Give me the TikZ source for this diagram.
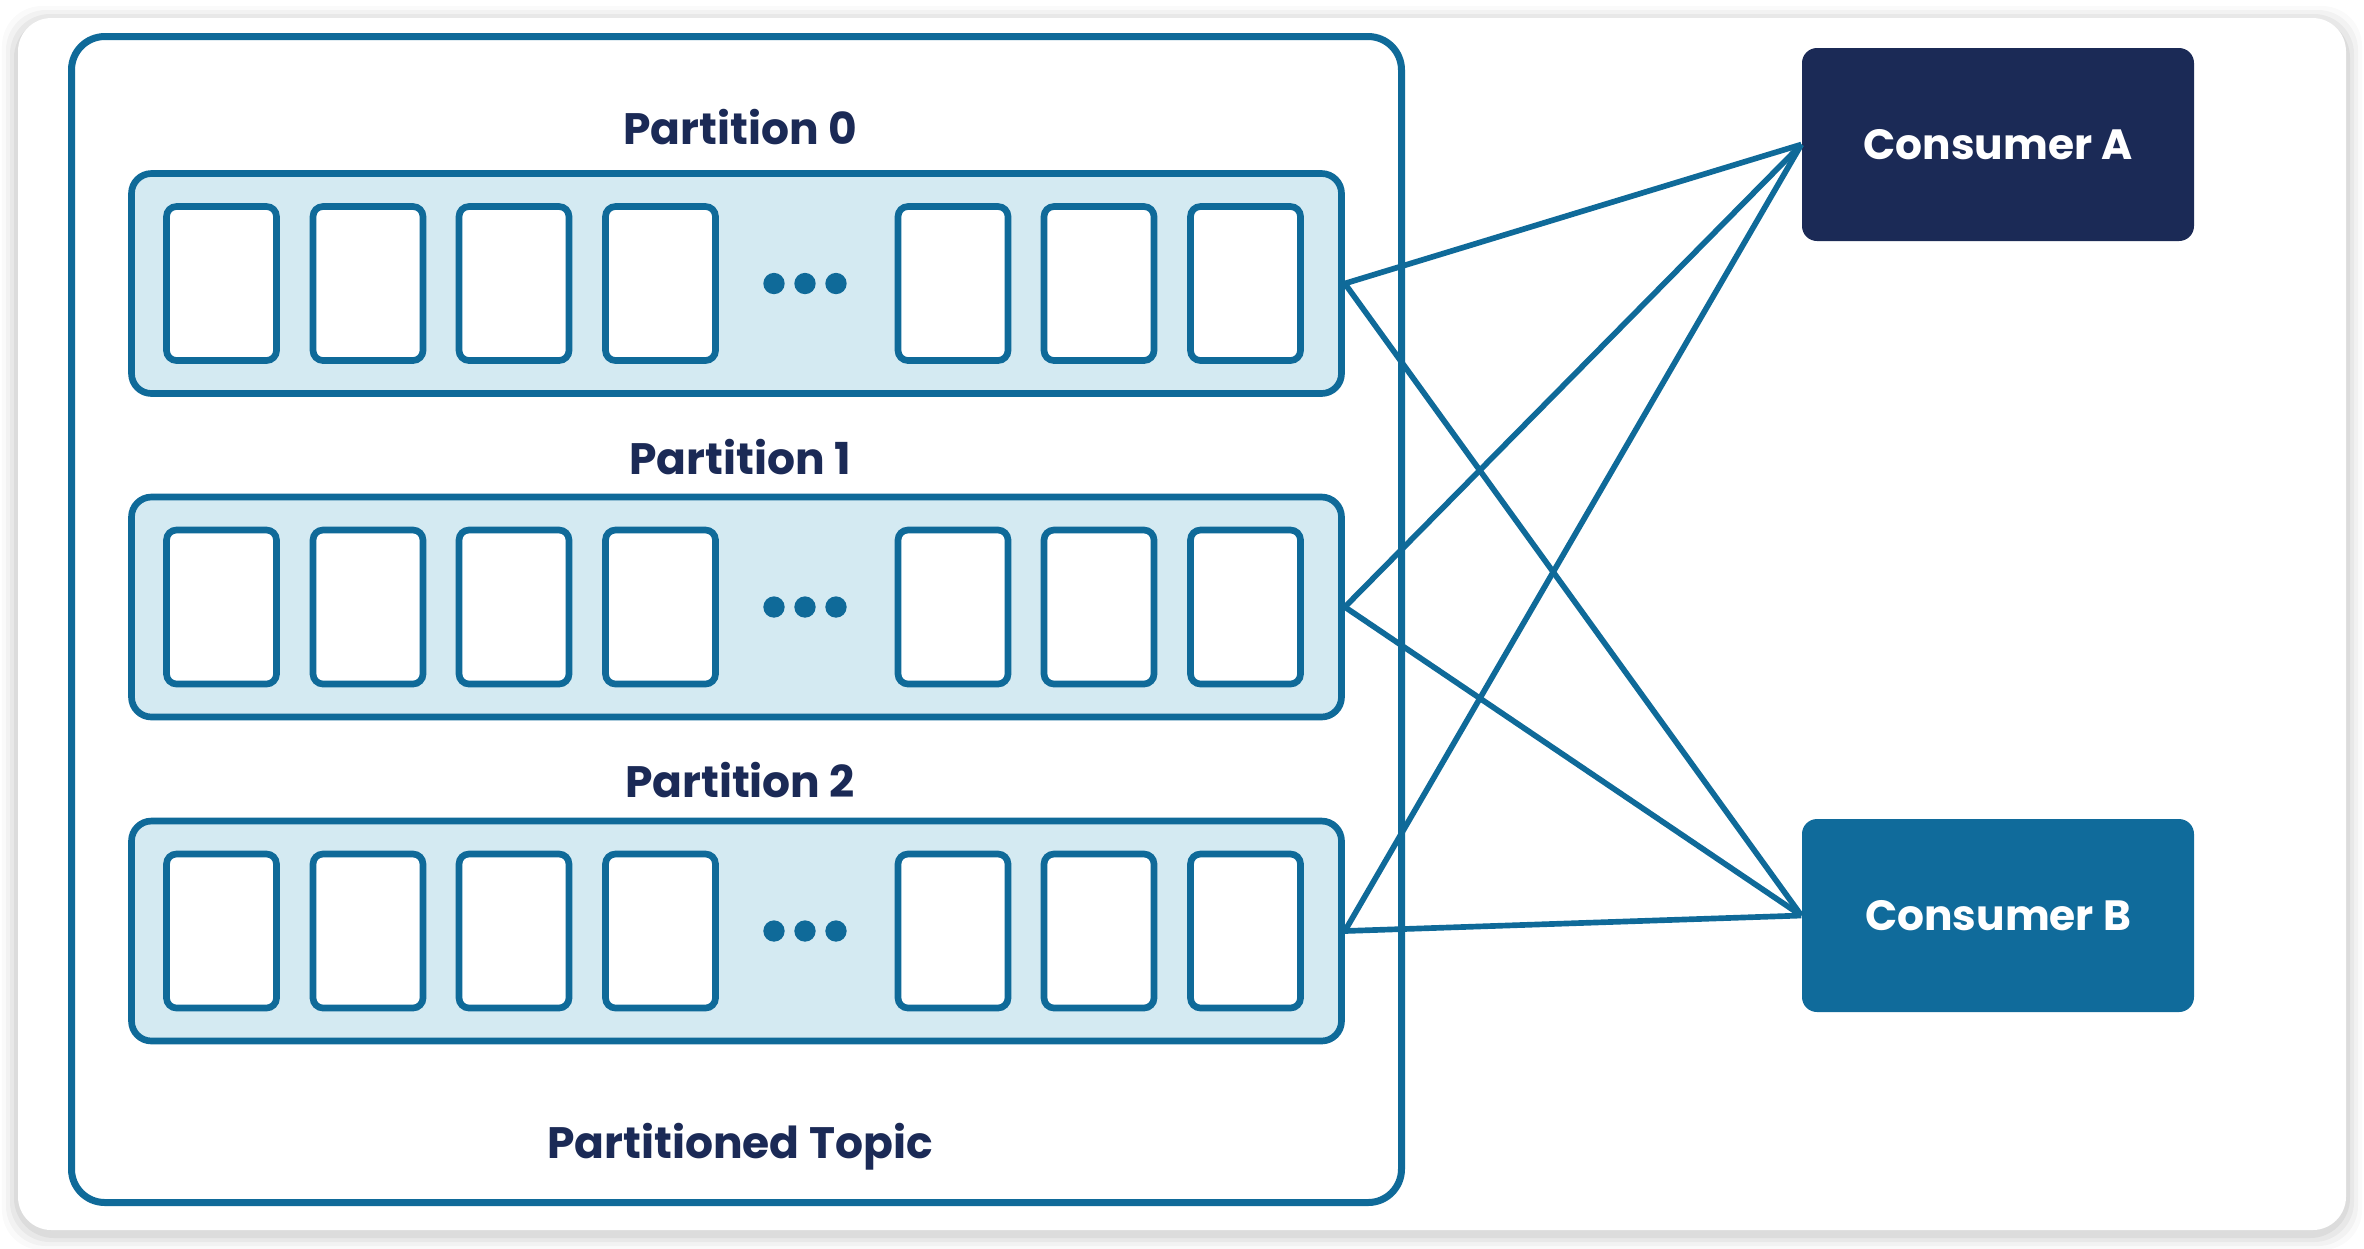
\documentclass[tikz,border=0pt]{standalone}
\usepackage{fontspec}
\setmainfont{Poppins}
\usetikzlibrary{positioning}
\definecolor{navy}{RGB}{27, 42, 86}
\definecolor{topicblue}{RGB}{15, 106, 153}
\definecolor{pale}{RGB}{212, 234, 242}
\definecolor{consblue}{RGB}{16, 107, 155}

\tikzset{
  frame/.style={draw=topicblue, line width=2.1pt, rounded corners=10pt,
    minimum width=399pt, minimum height=349.8pt, inner sep=0pt},
  partbox/.style={draw=topicblue, fill=pale, line width=2pt, rounded corners=6pt,
    minimum width=363pt, minimum height=66pt, inner sep=0pt},
  cell/.style={draw=topicblue, fill=white, line width=2pt, rounded corners=3pt,
    minimum width=33pt, minimum height=46.2pt, inner sep=0pt},
  lbl/.style={text=navy, font=\fontsize{13.2}{15}\selectfont\bfseries},
  consumer/.style={rounded corners=4.5pt, minimum width=117.6pt,
    minimum height=57.9pt, text=white, font=\fontsize{12.7}{15}\selectfont\bfseries},
  link/.style={draw=topicblue, line width=1.7pt},
}

\begin{document}
\begin{tikzpicture}[x=0.3pt, y=-0.3pt]
  \useasboundingbox (0, 0) rectangle (2364, 1248);
  \fill[white] (0, 0) rectangle (2364, 1248);

  % card and its shadow
  \foreach \s/\o in {16/0.02, 12/0.03, 8/0.04, 4/0.05} {
    \fill[black, opacity=\o, rounded corners=12pt]
      (18-\s, 18-\s+4) rectangle (2346+\s, 1230+\s+4);
  }
  \fill[white, rounded corners=10pt] (18, 18) rectangle (2346, 1230);

  \node[frame] (topic) at (736.5, 619.5) {};
  \node[lbl] (topiclbl) at (740, 1147) {Partitioned Topic};

  \foreach \i/\y/\ly in {0/283.5/127, 1/607/457, 2/931/780} {
    \node[lbl] (p\i lbl) at (740, \ly) {Partition \i};
    \node[partbox] (p\i) at (736.5, \y) {};
    \foreach \x [count=\k] in {221.5, 368, 514, 660.5, 953, 1099, 1245.5}
      \node[cell] (p\i c\k) at (\x, \y) {};
    \foreach \x in {774, 805, 836}
      \fill[topicblue] (\x, \y) circle (3.2pt);
  }

  \node[consumer, fill=navy] (consA) at (1998, 144.5) {Consumer A};
  \node[consumer, fill=consblue] (consB) at (1998, 915.5) {Consumer B};

  \foreach \i in {0, 1, 2} {
    \draw[link] (p\i.east) -- (consA.west);
    \draw[link] (p\i.east) -- (consB.west);
  }
\end{tikzpicture}
\end{document}
